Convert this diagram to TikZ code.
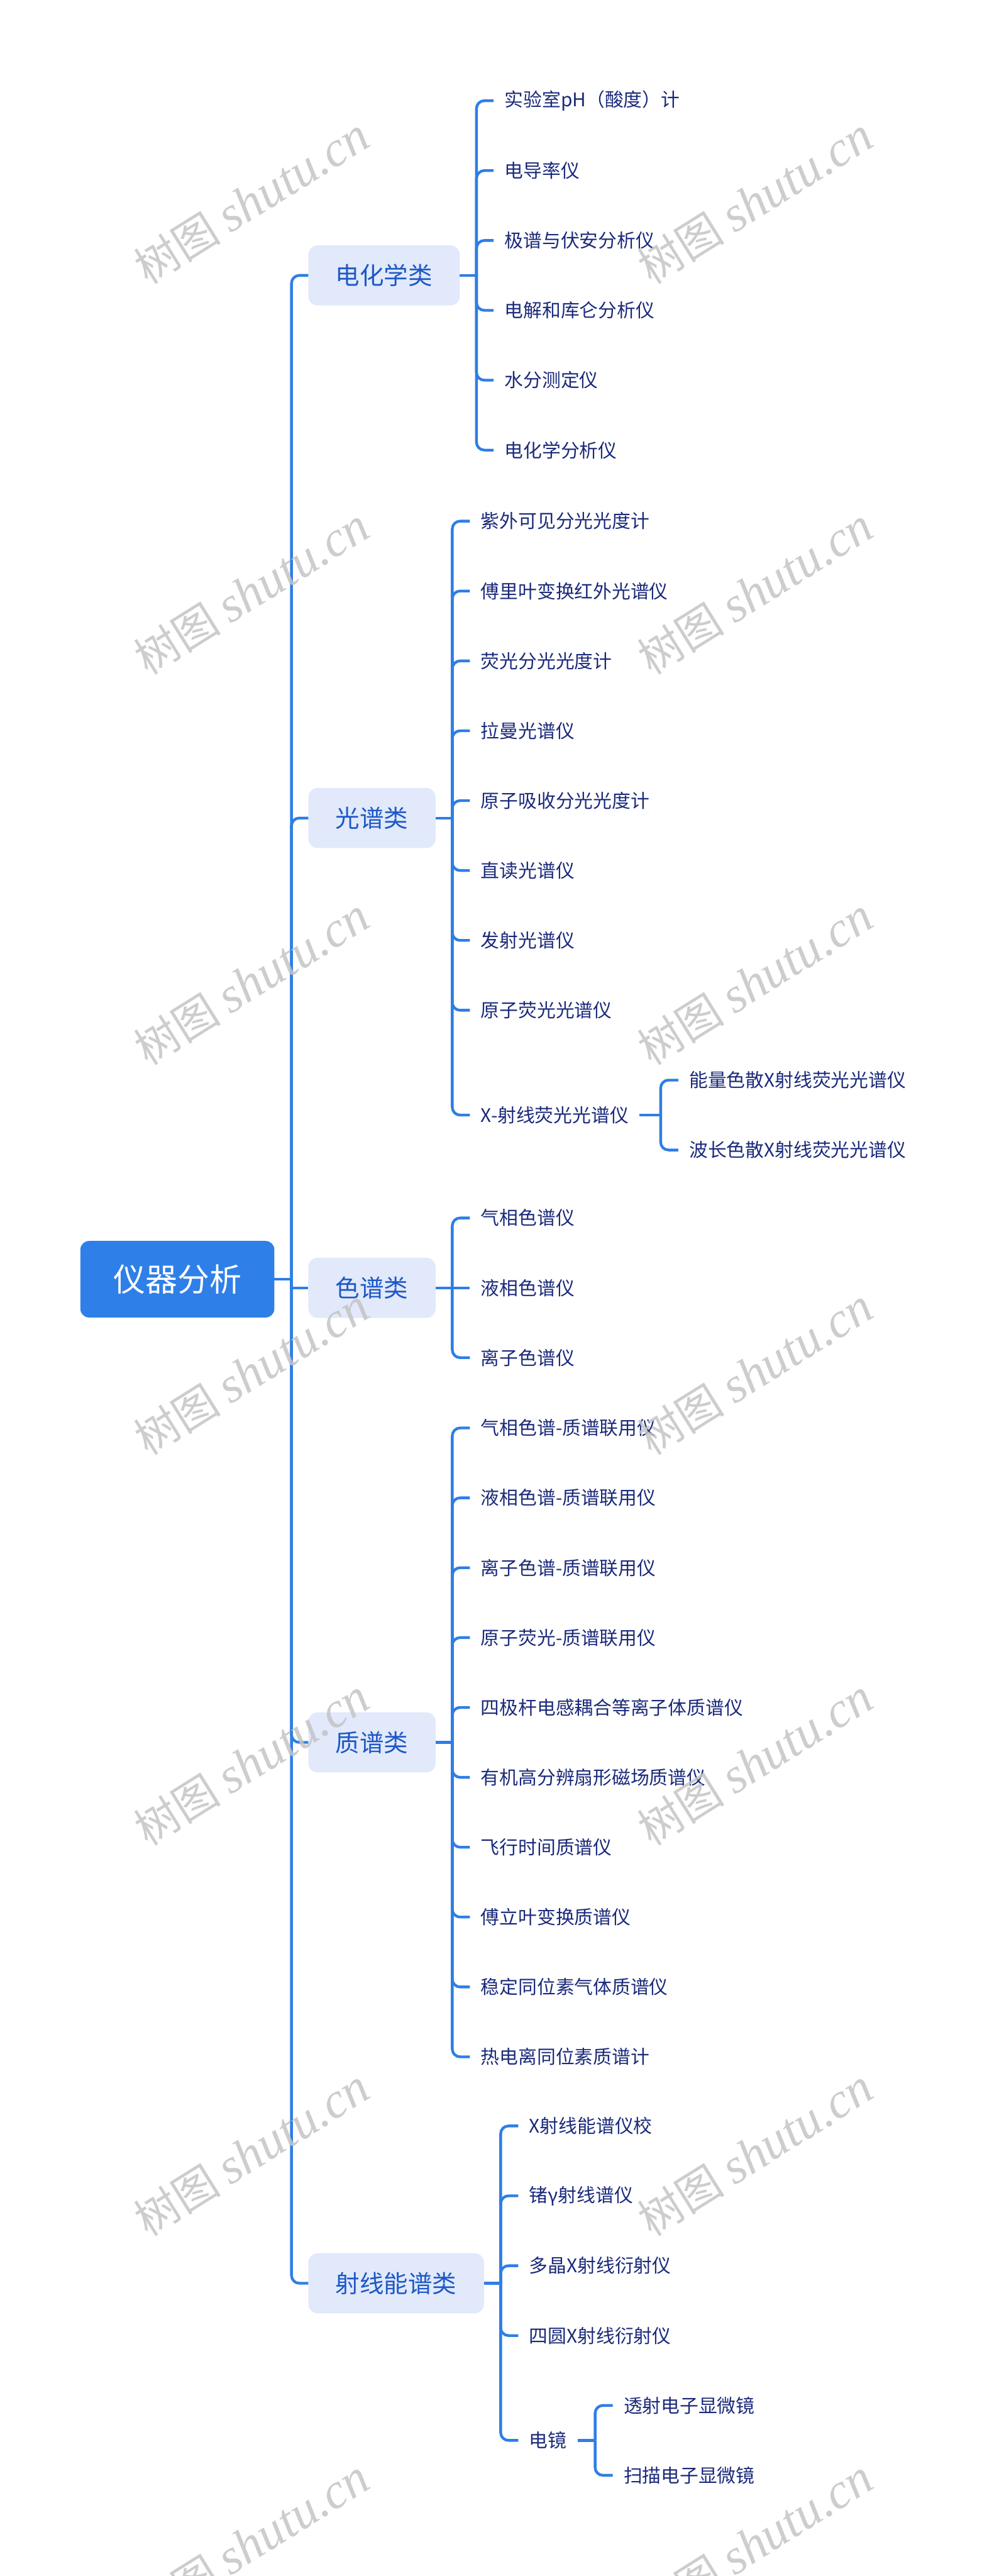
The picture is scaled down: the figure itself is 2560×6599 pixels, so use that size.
\documentclass[tikz,border=0pt]{standalone}
\usepackage{fontspec}
\setmainfont{Noto Sans CJK SC}
\newfontfamily\wmlatin{Liberation Serif}
\definecolor{lineblue}{RGB}{46,126,230}
\definecolor{rootblue}{RGB}{47,127,232}
\definecolor{catfill}{RGB}{225,233,251}
\definecolor{cattext}{RGB}{30,88,198}
\definecolor{leaftext}{RGB}{27,42,122}
\definecolor{wmgray}{RGB}{196,196,196}
\begin{document}
\begin{tikzpicture}[x=1pt,y=-1pt,
  conn/.style={draw=lineblue, line width=7pt},
  rconn/.style={draw=lineblue, line width=7pt, rounded corners=20pt},
  rootbox/.style={rectangle, rounded corners=22pt, fill=rootblue, text=white, minimum width=497pt, minimum height=196pt, inner sep=0pt, font=\fontsize{82}{90}\selectfont},
  catbox/.style={rectangle, rounded corners=24pt, fill=catfill, text=cattext, minimum height=154pt, inner xsep=70pt, inner ysep=0pt, anchor=west, font=\fontsize{62}{70}\selectfont},
  leaf/.style={anchor=west, inner xsep=28pt, inner ysep=0pt, text=leaftext, font=\fontsize{48}{56}\selectfont},
  wm/.style={rotate=32, text=wmgray, text opacity=0.85, inner sep=0pt, font=\fontsize{112}{120}\selectfont}
]
\useasboundingbox (0,0) rectangle (2560,6599);

% root
\node[rootbox] (root) at (454.5,3277) {仪器分析};

% categories
\node[catbox] (c1) at (790,705.5) {电化学类};
\node[catbox] (c2) at (790,2095.5) {光谱类};
\node[catbox] (c3) at (790,3299) {色谱类};
\node[catbox] (c4) at (790,4463.5) {质谱类};
\node[catbox] (c5) at (790,5849) {射线能谱类};

% trunk
\coordinate (t0) at (747,3277);
\draw[conn] (root.east) -- (t0);
\draw[rconn] (t0) |- (c1.west);
\draw[rconn] (t0) |- (c2.west);
\draw[conn] (t0) |- (c3.west);
\draw[rconn] (t0) |- (c4.west);
\draw[rconn] (t0) |- (c5.west);

% 电化学类
\node[leaf] (l1a) at (1265,258) {实验室pH（酸度）计};
\node[leaf] (l1b) at (1265,437) {电导率仪};
\node[leaf] (l1c) at (1265,616) {极谱与伏安分析仪};
\node[leaf] (l1d) at (1265,795) {电解和库仑分析仪};
\node[leaf] (l1e) at (1265,974) {水分测定仪};
\node[leaf] (l1f) at (1265,1153) {电化学分析仪};
\coordinate (b1) at (1221,705.5);
\draw[conn] (c1.east) -- (b1);
\foreach \n in {l1a,l1b,l1c,l1d,l1e,l1f} \draw[rconn] (b1) |- (\n.west);

% 光谱类
\node[leaf] (l2a) at (1204,1335) {紫外可见分光光度计};
\node[leaf] (l2b) at (1204,1514) {傅里叶变换红外光谱仪};
\node[leaf] (l2c) at (1204,1693) {荧光分光光度计};
\node[leaf] (l2d) at (1204,1872) {拉曼光谱仪};
\node[leaf] (l2e) at (1204,2051) {原子吸收分光光度计};
\node[leaf] (l2f) at (1204,2230) {直读光谱仪};
\node[leaf] (l2g) at (1204,2409) {发射光谱仪};
\node[leaf] (l2h) at (1204,2588) {原子荧光光谱仪};
\node[leaf] (l2i) at (1204,2856.5) {X-射线荧光光谱仪};
\coordinate (b2) at (1159,2095.5);
\draw[conn] (c2.east) -- (b2);
\foreach \n in {l2a,l2b,l2c,l2d,l2e,l2f,l2g,l2h,l2i} \draw[rconn] (b2) |- (\n.west);

\node[leaf] (l2i1) at (1738,2767) {能量色散X射线荧光光谱仪};
\node[leaf] (l2i2) at (1738,2946) {波长色散X射线荧光光谱仪};
\coordinate (b2i) at (1693,2856.5);
\draw[conn] (l2i.east) -- (b2i);
\draw[rconn] (b2i) |- (l2i1.west);
\draw[rconn] (b2i) |- (l2i2.west);

% 色谱类
\node[leaf] (l3a) at (1204,3120) {气相色谱仪};
\node[leaf] (l3b) at (1204,3299) {液相色谱仪};
\node[leaf] (l3c) at (1204,3478) {离子色谱仪};
\coordinate (b3) at (1159,3299);
\draw[conn] (c3.east) -- (l3b.west);
\draw[rconn] (b3) |- (l3a.west);
\draw[rconn] (b3) |- (l3c.west);

% 质谱类
\node[leaf] (l4a) at (1204,3658) {气相色谱-质谱联用仪};
\node[leaf] (l4b) at (1204,3837) {液相色谱-质谱联用仪};
\node[leaf] (l4c) at (1204,4016) {离子色谱-质谱联用仪};
\node[leaf] (l4d) at (1204,4195) {原子荧光-质谱联用仪};
\node[leaf] (l4e) at (1204,4374) {四极杆电感耦合等离子体质谱仪};
\node[leaf] (l4f) at (1204,4553) {有机高分辨扇形磁场质谱仪};
\node[leaf] (l4g) at (1204,4732) {飞行时间质谱仪};
\node[leaf] (l4h) at (1204,4911) {傅立叶变换质谱仪};
\node[leaf] (l4i) at (1204,5090) {稳定同位素气体质谱仪};
\node[leaf] (l4j) at (1204,5269) {热电离同位素质谱计};
\coordinate (b4) at (1159,4463.5);
\draw[conn] (c4.east) -- (b4);
\foreach \n in {l4a,l4b,l4c,l4d,l4e,l4f,l4g,l4h,l4i,l4j} \draw[rconn] (b4) |- (\n.west);

% 射线能谱类
\node[leaf] (l5a) at (1328,5446) {X射线能谱仪校};
\node[leaf] (l5b) at (1328,5625) {锗γ射线谱仪};
\node[leaf] (l5c) at (1328,5804) {多晶X射线衍射仪};
\node[leaf] (l5d) at (1328,5983) {四圆X射线衍射仪};
\node[leaf] (l5e) at (1328,6251.5) {电镜};
\coordinate (b5) at (1283,5849);
\draw[conn] (c5.east) -- (b5);
\foreach \n in {l5a,l5b,l5c,l5d,l5e} \draw[rconn] (b5) |- (\n.west);

\node[leaf] (l5e1) at (1570,6162) {透射电子显微镜};
\node[leaf] (l5e2) at (1570,6341) {扫描电子显微镜};
\coordinate (b5e) at (1525,6251.5);
\draw[conn] (l5e.east) -- (b5e);
\draw[rconn] (b5e) |- (l5e1.west);
\draw[rconn] (b5e) |- (l5e2.west);

% watermarks
\foreach \i/\y in {1/515,2/1515,3/2515,4/3515,5/4515,6/5515,7/6515}{
  \node[wm] (wmL\i) at (645,\y) {树图 {\wmlatin\itshape\fontsize{128}{130}\selectfont shutu.cn}};
  \node[wm] (wmR\i) at (1936,\y) {树图 {\wmlatin\itshape\fontsize{128}{130}\selectfont shutu.cn}};
}
\end{tikzpicture}
\end{document}
